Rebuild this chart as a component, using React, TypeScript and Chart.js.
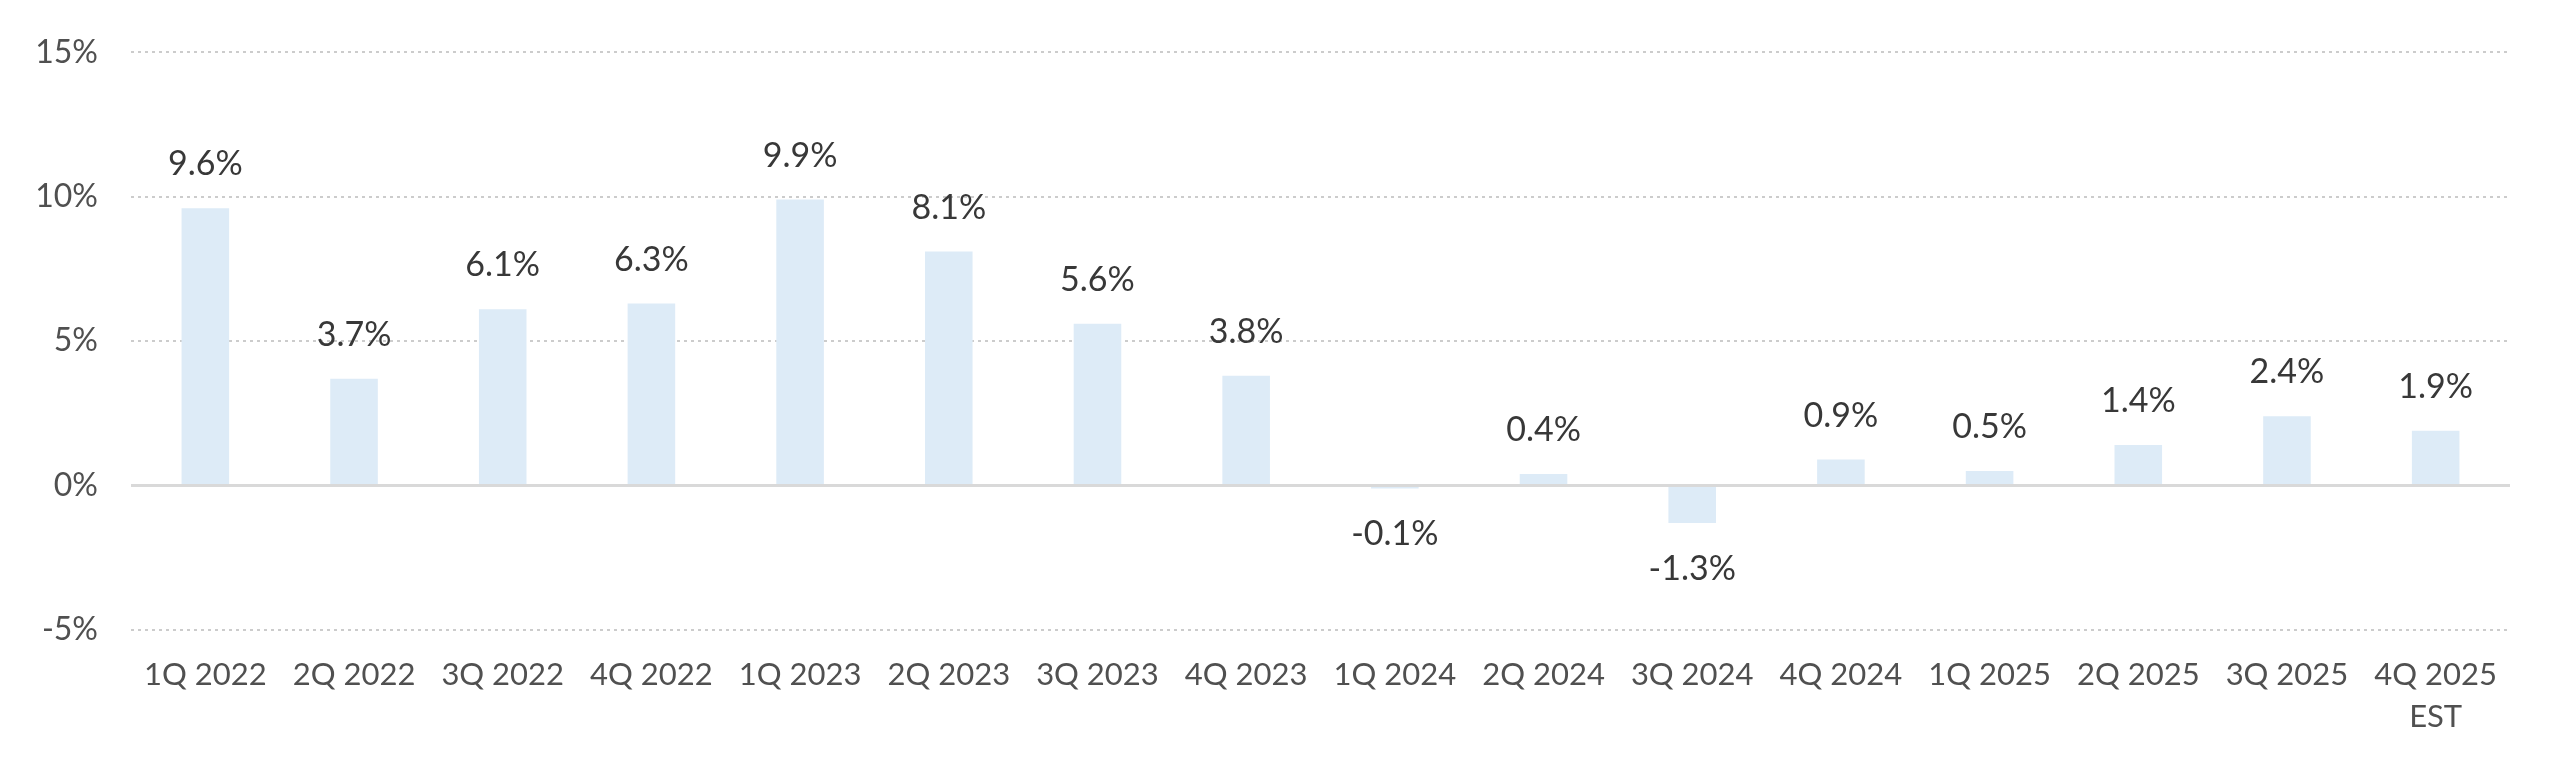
import { useEffect, useRef } from 'react'
import { Chart, registerables } from 'chart.js'

Chart.register(...registerables)

const quarters: (string | string[])[] = [
  '1Q 2022', '2Q 2022', '3Q 2022', '4Q 2022',
  '1Q 2023', '2Q 2023', '3Q 2023', '4Q 2023',
  '1Q 2024', '2Q 2024', '3Q 2024', '4Q 2024',
  '1Q 2025', '2Q 2025', '3Q 2025', ['4Q 2025', 'EST'],
]
const growth = [9.6, 3.7, 6.1, 6.3, 9.9, 8.1, 5.6, 3.8, -0.1, 0.4, -1.3, 0.9, 0.5, 1.4, 2.4, 1.9]
const yTicks = [-5, 0, 5, 10, 15]

const FONT = "Lato, 'Open Sans', sans-serif"

// dotted grid lines + solid zero line, drawn from the y scale
const gridPlugin = {
  id: 'dottedGrid',
  beforeDatasetsDraw(chart: any) {
    const { ctx, chartArea, scales } = chart
    ctx.save()
    ctx.strokeStyle = '#CCCCCC'
    ctx.lineWidth = 2
    ctx.setLineDash([3, 4])
    for (const v of yTicks) {
      if (v === 0) continue
      const y = Math.round(scales.y.getPixelForValue(v))
      ctx.beginPath()
      ctx.moveTo(chartArea.left, y)
      ctx.lineTo(chartArea.right, y)
      ctx.stroke()
    }
    ctx.restore()
  },
  afterDatasetsDraw(chart: any) {
    const { ctx, chartArea, scales } = chart
    const y = scales.y.getPixelForValue(0)
    ctx.save()
    ctx.strokeStyle = '#D9D9D9'
    ctx.lineWidth = 3
    ctx.beginPath()
    ctx.moveTo(chartArea.left, y)
    ctx.lineTo(chartArea.right, y)
    ctx.stroke()
    ctx.restore()
  },
}

const labelPlugin = {
  id: 'valueLabels',
  afterDatasetsDraw(chart: any) {
    const { ctx } = chart
    const meta = chart.getDatasetMeta(0)
    ctx.save()
    ctx.font = `34px ${FONT}`
    ctx.fillStyle = '#383838'
    ctx.textAlign = 'center'
    ctx.textBaseline = 'middle'
    meta.data.forEach((bar: any, i: number) => {
      const v = growth[i]
      const y = v >= 0 ? bar.y - 44 : bar.y + 46
      ctx.fillText(`${v.toFixed(1)}%`, bar.x, y)
    })
    ctx.restore()
  },
}

export default function App() {
  const canvasRef = useRef<HTMLCanvasElement>(null)
  const chartRef = useRef<Chart | null>(null)

  useEffect(() => {
    document.body.style.margin = '0'
    const canvas = canvasRef.current
    if (!canvas) return
    chartRef.current?.destroy()
    chartRef.current = new Chart(canvas, {
      type: 'bar',
      data: {
        labels: quarters,
        datasets: [{
          data: growth,
          backgroundColor: '#DDEBF7',
          borderWidth: 0,
          barPercentage: 0.32,
          categoryPercentage: 1,
        }],
      },
      options: {
        responsive: false,
        animation: false,
        devicePixelRatio: 1,
        layout: { padding: { top: 47, right: 50, bottom: 0, left: 0 } },
        scales: {
          x: {
            grid: { display: false, drawTicks: false },
            border: { display: false },
            ticks: {
              color: '#505050',
              font: { family: FONT, size: 31, lineHeight: 1.35 },
              padding: 24,
              maxRotation: 0,
              autoSkip: false,
            },
            afterFit: (s: any) => { s.height = 135 },
          },
          y: {
            min: -5,
            max: 15,
            grid: { display: false, drawTicks: false },
            border: { display: false },
            ticks: {
              stepSize: 5,
              color: '#505050',
              font: { family: FONT, size: 32 },
              padding: 33,
              callback: (v: any) => `${v}%`,
            },
            afterFit: (s: any) => { s.width = 131 },
          },
        },
        plugins: {
          legend: { display: false },
          tooltip: { enabled: false },
        },
      },
      plugins: [gridPlugin, labelPlugin],
    })
    return () => { chartRef.current?.destroy() }
  }, [])

  return (
    <div style={{ width: 2560, height: 765, background: '#fff' }}>
      <canvas ref={canvasRef} width={2560} height={765} />
    </div>
  )
}
